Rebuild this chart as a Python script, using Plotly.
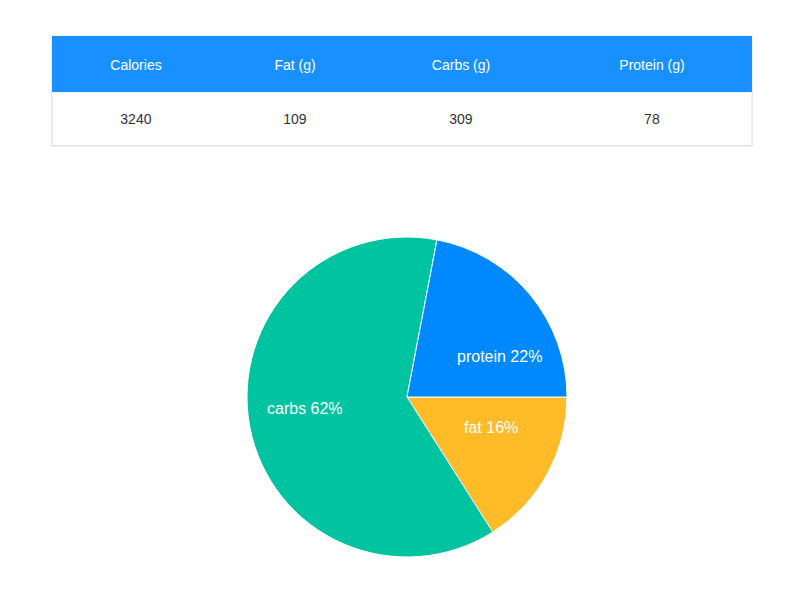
import numpy as np
import plotly.graph_objects as go

# ---- data ----
table_headers = ["Calories", "Fat (g)", "Carbs (g)", "Protein (g)"]
table_values = [3240, 109, 309, 78]

pie_labels = ["protein", "carbs", "fat"]
pie_values = [22, 62, 16]
pie_colors = ["#0088FE", "#00C49F", "#FFBB28"]

W, H = 803, 589

def px(x):
    return x / W

def py(y):
    return 1 - y / H

fig = go.Figure()

# table (text only; backgrounds drawn as shapes beneath)
fig.add_trace(go.Table(
    domain=dict(x=[px(52), px(752)], y=[py(145), py(31)]),
    columnwidth=[168, 150, 182, 200],
    header=dict(
        values=["&nbsp;<br>" + h for h in table_headers],
        fill_color="rgba(0,0,0,0)",
        line=dict(color="rgba(0,0,0,0)", width=0),
        font=dict(color="white", size=14, family="Liberation Sans, Arial"),
        align="center",
        height=54,
    ),
    cells=dict(
        values=[["&nbsp;<br>" + str(v)] for v in table_values],
        fill_color="rgba(0,0,0,0)",
        line=dict(color="rgba(0,0,0,0)", width=0),
        font=dict(color="#333333", size=14, family="Liberation Sans, Arial"),
        align="center",
        height=60,
    ),
))

# pie (drawn clockwise from 3 o'clock in reverse order = counterclockwise in data order)
cx, cy, R = 407, 397, 160
fig.add_trace(go.Pie(
    labels=pie_labels[::-1],
    values=pie_values[::-1],
    marker=dict(colors=pie_colors[::-1], line=dict(color="white", width=1)),
    sort=False,
    direction="clockwise",
    rotation=90,
    textinfo="none",
    showlegend=False,
    domain=dict(x=[px(cx - R), px(cx + R)], y=[py(cy + R), py(cy - R)]),
))

# labels (recharts-style: at 0.4 * radius along mid angle, counterclockwise from 3 o'clock)
vals = np.array(pie_values, dtype=float)
fr = vals / vals.sum()
start = np.concatenate([[0], np.cumsum(fr)[:-1]]) * 360
mid = np.deg2rad(start + fr * 180)
r_lab = 0.4 * R
annotations = []
for lab, f, a in zip(pie_labels, fr, mid):
    x = cx + r_lab * np.cos(a)
    y = cy - r_lab * np.sin(a)
    annotations.append(dict(
        x=px(x), y=py(y), xref="paper", yref="paper",
        text=f"{lab} {round(f * 100):.0f}%",
        showarrow=False,
        borderpad=0,
        xanchor="left" if x > cx else "right",
        yanchor="middle",
        font=dict(color="white", size=16, family="Liberation Sans, Arial"),
    ))

fig.update_layout(
    width=W, height=H,
    margin=dict(l=0, r=0, t=0, b=0),
    paper_bgcolor="white",
    plot_bgcolor="white",
    annotations=annotations,
    shapes=[
        # soft shadow
        dict(type="rect", xref="paper", yref="paper", layer="below",
             x0=px(51), x1=px(753), y0=py(147), y1=py(35),
             line=dict(width=0), fillcolor="rgba(0,0,0,0.06)"),
        # body
        dict(type="rect", xref="paper", yref="paper", layer="below",
             x0=px(52), x1=px(752), y0=py(145.5), y1=py(92),
             line=dict(color="#e2e2e2", width=1), fillcolor="white"),
        # header
        dict(type="rect", xref="paper", yref="paper", layer="below",
             x0=px(52), x1=px(752), y0=py(92), y1=py(36),
             line=dict(width=0), fillcolor="#1890ff"),
    ],
)

fig.write_html("out.html")
